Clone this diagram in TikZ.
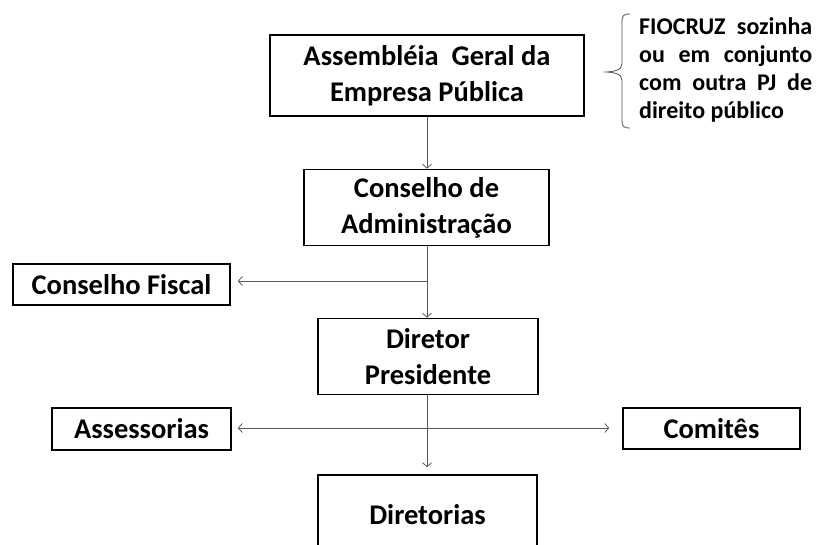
\documentclass[tikz,border=0pt]{standalone}
\usepackage{fontspec}
\setmainfont{Carlito}
\usetikzlibrary{arrows.meta}
\begin{document}
\begin{tikzpicture}[x=1pt,y=-1pt,
  box/.style={draw=black, line width=1.6pt, align=center, inner sep=0pt,
    font=\bfseries\fontsize{28.5}{36}\selectfont},
  conn/.style={draw=black!65, line width=0.8pt},
  tip/.style={-{Straight Barb[length=4pt,width=9pt]}},
  dtip/.style={{Straight Barb[length=4pt,width=9pt]}-{Straight Barb[length=4pt,width=9pt]}}]
\useasboundingbox (0,0) rectangle (817,544);
\clip (0,0) rectangle (817,544);
\node[box, minimum width=314pt, minimum height=81pt] (A) at (427,75.5) {Assembléia\ \ Geral da\\Empresa Pública};
\node[box, minimum width=245pt, minimum height=76pt] (CA) at (426.5,207.5) {Conselho de\\Administração};
\node[box, minimum width=217pt, minimum height=41pt] (CF) at (121.5,284.5) {Conselho Fiscal};
\node[box, minimum width=220pt, minimum height=76pt] (DP) at (428,356.5) {Diretor\\Presidente};
\node[box, minimum width=179pt, minimum height=42pt] (AS) at (141.5,429) {Assessorias};
\node[box, minimum width=177pt, minimum height=41pt] (CO) at (711.5,428.5) {Comitês};
\node[box, minimum width=219pt, minimum height=80pt] (DI) at (427.5,515) {Diretorias};
\coordinate (j1) at (427,281);
\coordinate (j2) at (427,428);
\draw[conn,tip] (A.south -| j1) -- (CA.north -| j1);
\draw[conn,tip] (CA.south -| j1) -- (DP.north -| j1);
\draw[conn,tip,shorten >=7pt] (j1) -- (CF.east |- j1);
\draw[conn,tip,shorten >=7pt] (DP.south -| j1) -- (DI.north -| j1);
\draw[conn,dtip,shorten <=6pt,shorten >=13pt] (AS.east |- j2) -- (CO.west |- j2);
% brace
\draw[black!70, line width=0.8pt] (630,14) .. controls (623,14) and (622,16) .. (622,22)
  -- (622,64) .. controls (622,70) and (614,72) .. (604,72)
  .. controls (614,72) and (622,74) .. (622,80)
  -- (622,120) .. controls (622,126) and (623,128) .. (630,128);
\node[anchor=north west, inner sep=0pt, text width=173pt, align=justify,
  font=\bfseries\fontsize{24}{28}\selectfont] (T) at (639,17)
  {FIOCRUZ sozinha\linebreak ou em conjunto\linebreak com outra PJ de\linebreak direito público};
\end{tikzpicture}
\end{document}
